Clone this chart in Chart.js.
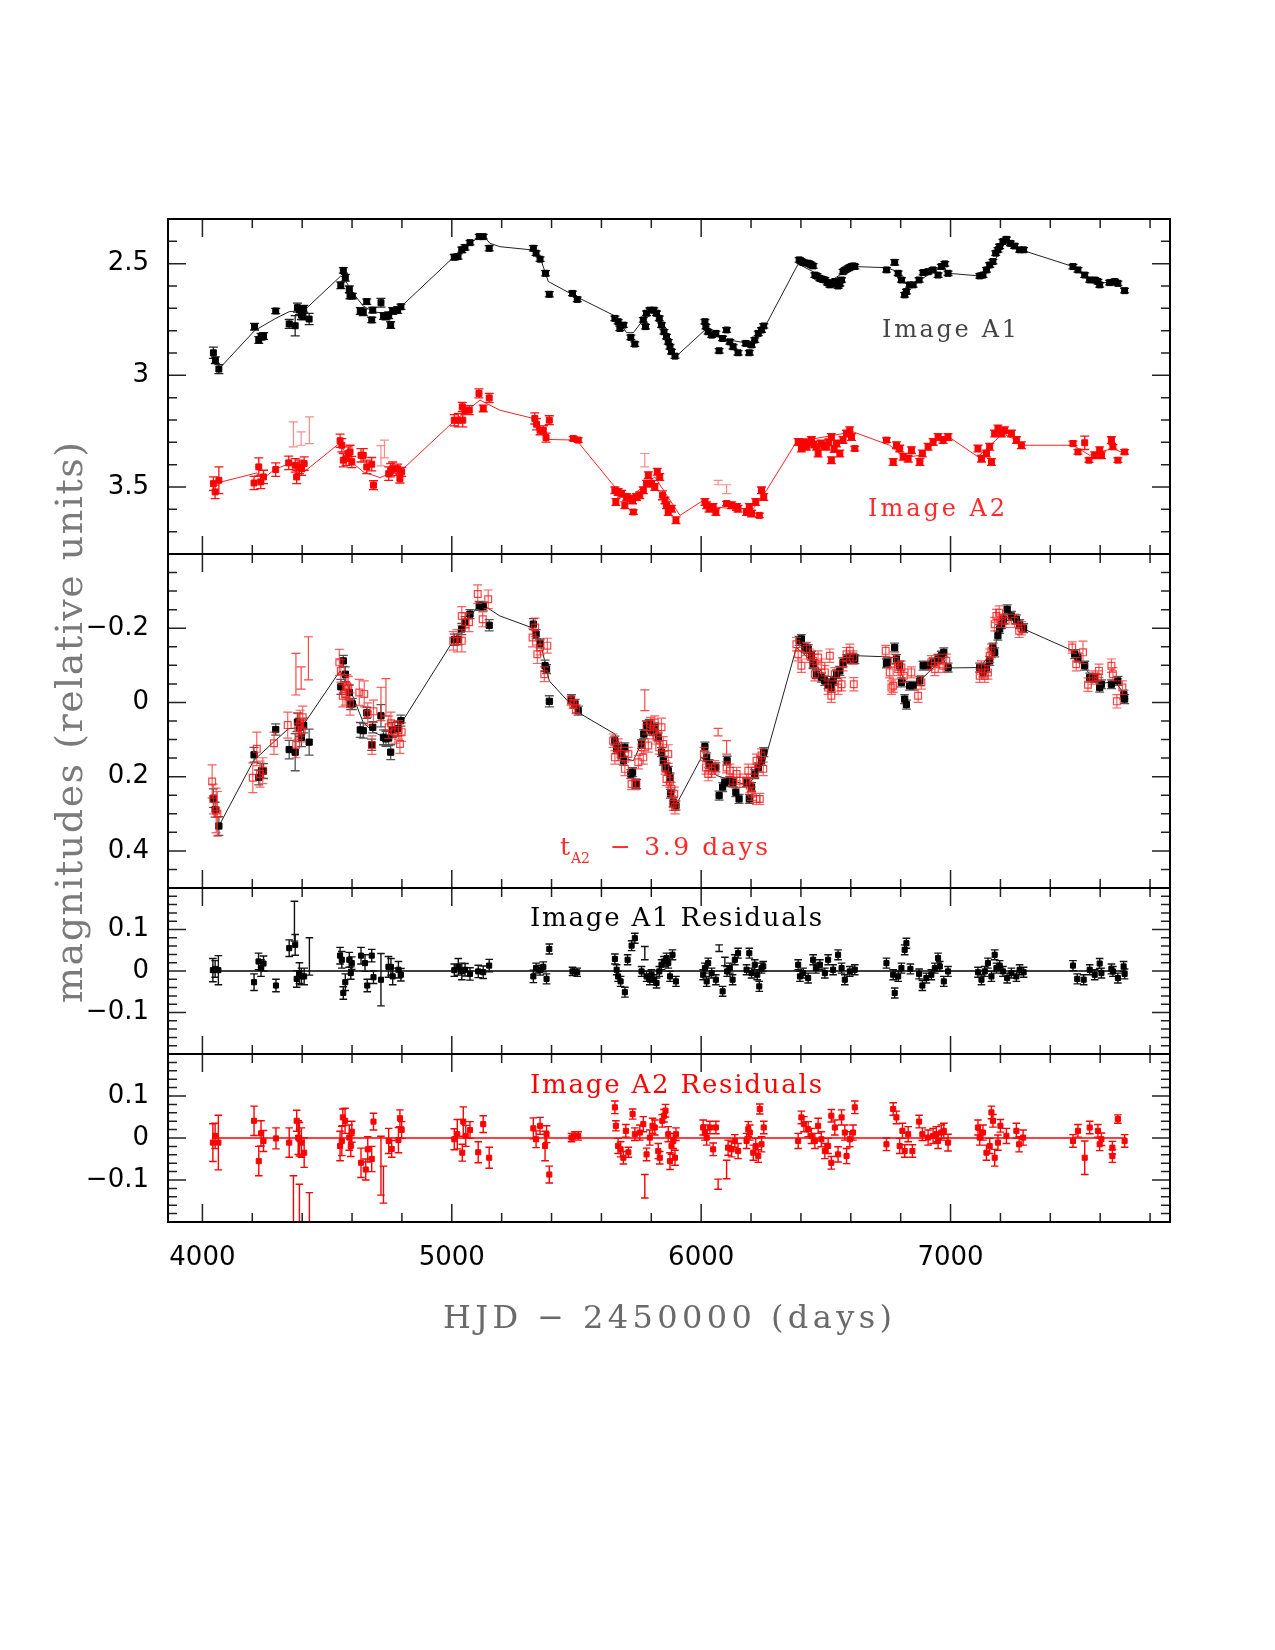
<!DOCTYPE html>
<html><head><meta charset="utf-8">
<script src="https://cdn.jsdelivr.net/npm/chart.js@4/dist/chart.umd.min.js"></script>
<style>
html,body{margin:0;padding:0;background:#fff;}
#wrap{position:relative;width:1275px;height:1650px;background:#fff;}
canvas{position:absolute;left:0;top:0;}
</style></head>
<body><div id="wrap">
<canvas id="c1" width="1275" height="1650"></canvas>
<canvas id="c2" width="1275" height="1650"></canvas>
<canvas id="c3" width="1275" height="1650"></canvas>
<canvas id="c4" width="1275" height="1650"></canvas>
</div>
<script>
// ---------------- data (HJD-2450000, magnitude, error) ----------------
const xMin = 3862, xMax = 7880;
const xTickLabels = [4000, 5000, 6000, 7000];
const p1TickLabels = [2.5, 3, 3.5];
const p2TickLabels = [-0.2, 0, 0.2, 0.4];
const residTickLabels = [-0.1, 0, 0.1];

// Panel 1: Image A1
const a1Obs = [
[4044,2.899,0.025],[4052,2.932,0.015],[4066,2.972,0.02],
[4209,2.782,0.015],[4226,2.842,0.015],[4235,2.827,0.015],[4245,2.824,0.015],
[4294,2.712,0.012],
[4348,2.770,0.02],[4372,2.778,0.045],[4381,2.697,0.02],[4389,2.708,0.02],[4397,2.730,0.02],[4403,2.737,0.015],[4406,2.702,0.015],[4428,2.748,0.025],
[4555,2.597,0.015],[4565,2.530,0.012],[4573,2.563,0.015],[4589,2.615,0.015],[4592,2.645,0.012],[4601,2.645,0.012],
[4633,2.712,0.015],[4645,2.717,0.015],[4659,2.670,0.012],[4679,2.752,0.012],[4683,2.708,0.012],
[4716,2.675,0.02],[4726,2.734,0.015],[4736,2.737,0.015],[4747,2.731,0.015],[4755,2.775,0.015],[4763,2.712,0.015],[4783,2.708,0.015],[4796,2.693,0.012],
[5010,2.471,0.012],[5025,2.468,0.012],[5040,2.438,0.012],[5053,2.427,0.012],[5073,2.406,0.01],[5110,2.379,0.01],[5126,2.379,0.01],[5150,2.431,0.012],
[5327,2.431,0.012],[5338,2.453,0.01],[5354,2.480,0.01],[5376,2.543,0.012],[5391,2.637,0.012],
[5484,2.633,0.01],[5503,2.660,0.01],
[5654,2.745,0.01],[5667,2.760,0.01],[5674,2.790,0.01],[5688,2.775,0.01],[5718,2.830,0.01],[5734,2.860,0.01],
[5768,2.752,0.01],[5777,2.782,0.01],[5781,2.722,0.01],[5794,2.708,0.01],[5810,2.708,0.01],[5821,2.722,0.01],[5832,2.745,0.01],[5841,2.775,0.01],[5851,2.805,0.01],[5861,2.827,0.01],[5868,2.850,0.01],[5875,2.872,0.01],[5881,2.894,0.01],[5895,2.914,0.01],
[6015,2.760,0.01],[6019,2.782,0.01],[6028,2.805,0.01],[6042,2.820,0.01],[6059,2.812,0.01],[6072,2.890,0.01],[6086,2.835,0.01],[6102,2.797,0.01],[6115,2.850,0.01],[6128,2.872,0.01],[6148,2.899,0.01],[6179,2.857,0.01],[6193,2.899,0.01],[6202,2.864,0.01],[6215,2.842,0.01],[6229,2.812,0.01],[6242,2.797,0.01],[6251,2.779,0.01],
[6393,2.483,0.01],[6400,2.488,0.01],[6409,2.495,0.01],[6418,2.497,0.01],[6429,2.498,0.01],[6438,2.503,0.01],[6449,2.510,0.01],[6456,2.551,0.01],[6465,2.556,0.01],[6476,2.566,0.01],[6486,2.570,0.01],[6496,2.573,0.01],[6506,2.585,0.01],[6516,2.595,0.01],[6526,2.590,0.01],[6536,2.580,0.01],[6549,2.600,0.01],[6556,2.590,0.01],[6563,2.573,0.01],[6569,2.536,0.01],[6578,2.528,0.01],[6589,2.521,0.01],[6596,2.517,0.01],[6603,2.513,0.01],[6610,2.510,0.01],[6616,2.513,0.01],
[6743,2.528,0.01],[6776,2.494,0.012],[6790,2.543,0.01],
[6803,2.573,0.01],[6816,2.640,0.01],[6823,2.625,0.01],[6836,2.595,0.01],[6850,2.595,0.01],[6874,2.573,0.01],[6890,2.540,0.01],[6910,2.536,0.01],[6930,2.528,0.01],[6950,2.551,0.01],[6963,2.513,0.01],[6977,2.501,0.01],[6990,2.543,0.01],
[7117,2.555,0.01],[7130,2.551,0.01],[7144,2.528,0.01],[7157,2.506,0.01],[7170,2.491,0.01],[7181,2.453,0.01],[7190,2.438,0.01],[7197,2.423,0.01],[7210,2.401,0.01],[7224,2.391,0.01],[7240,2.409,0.01],[7257,2.421,0.01],[7277,2.438,0.01],[7293,2.438,0.01],
[7491,2.513,0.01],[7511,2.528,0.01],[7538,2.551,0.01],[7558,2.573,0.01],[7578,2.573,0.01],[7591,2.580,0.01],[7598,2.595,0.01],[7638,2.585,0.01],[7658,2.580,0.01],[7671,2.588,0.01],[7698,2.621,0.01]
];
const a1Model = [[4066,2.972],[4209,2.800],[4294,2.745],[4348,2.715],[4392,2.710],[4416,2.701],[4555,2.555],[4572,2.573],[4605,2.633],[4645,2.690],[4686,2.715],[4726,2.722],[4759,2.715],[4799,2.690],[5010,2.468],[5060,2.420],[5106,2.382],[5133,2.382],[5153,2.409],[5193,2.424],[5327,2.439],[5360,2.491],[5387,2.580],[5500,2.648],[5654,2.734],[5701,2.809],[5728,2.809],[5788,2.722],[5810,2.708],[5834,2.752],[5895,2.920],[6015,2.797],[6062,2.827],[6128,2.845],[6189,2.857],[6249,2.797],[6389,2.501],[6449,2.536],[6516,2.580],[6576,2.536],[6616,2.513],[6743,2.518],[6776,2.531],[6810,2.585],[6836,2.595],[6877,2.573],[6917,2.546],[6970,2.510],[6990,2.543],[7117,2.555],[7170,2.498],[7224,2.397],[7271,2.438],[7291,2.441],[7491,2.513],[7558,2.573],[7598,2.588],[7658,2.580],[7698,2.621]];

// Panel 1: Image A2
const a2Obs = [
[4044,3.485,0.03],[4051,3.522,0.03],[4066,3.470,0.06],
[4207,3.482,0.03],[4226,3.410,0.04],[4234,3.477,0.03],[4245,3.455,0.03],
[4294,3.422,0.03],
[4346,3.392,0.03],[4372,3.403,0.03],[4378,3.455,0.03],[4389,3.410,0.03],[4398,3.418,0.03],[4408,3.395,0.03],
[4552,3.293,0.03],[4559,3.313,0.03],[4565,3.380,0.03],[4576,3.373,0.03],[4585,3.350,0.03],[4592,3.343,0.03],[4599,3.388,0.025],
[4636,3.358,0.03],[4645,3.358,0.03],[4659,3.410,0.03],[4679,3.398,0.03],[4686,3.492,0.02],
[4747,3.440,0.03],[4755,3.425,0.03],[4763,3.418,0.03],[4783,3.418,0.02],[4792,3.462,0.02],[4799,3.432,0.02],
[5010,3.201,0.025],[5026,3.201,0.03],[5044,3.201,0.03],[5042,3.141,0.02],[5053,3.156,0.02],[5070,3.156,0.02],[5109,3.081,0.02],[5126,3.148,0.015],[5150,3.101,0.02],
[5333,3.193,0.025],[5340,3.219,0.025],[5354,3.246,0.02],[5367,3.246,0.02],[5378,3.279,0.02],[5391,3.201,0.02],
[5487,3.283,0.01],[5507,3.290,0.01],
[5654,3.515,0.015],[5658,3.567,0.015],[5667,3.522,0.015],[5681,3.530,0.015],[5694,3.582,0.015],[5701,3.545,0.015],[5714,3.552,0.015],[5725,3.560,0.015],[5728,3.612,0.01],[5741,3.545,0.015],[5754,3.537,0.015],[5768,3.515,0.015],[5781,3.485,0.015],[5788,3.447,0.015],[5801,3.485,0.015],[5814,3.500,0.015],[5824,3.432,0.015],[5834,3.455,0.015],[5845,3.537,0.02],[5855,3.560,0.015],[5861,3.582,0.015],[5868,3.612,0.015],[5881,3.597,0.015],[5899,3.649,0.015],
[6015,3.567,0.015],[6022,3.582,0.015],[6032,3.597,0.015],[6048,3.589,0.015],[6059,3.612,0.015],[6102,3.574,0.01],[6122,3.582,0.015],[6142,3.589,0.015],[6148,3.597,0.015],[6182,3.612,0.015],[6193,3.589,0.015],[6202,3.619,0.015],[6219,3.567,0.015],[6233,3.627,0.01],[6242,3.515,0.015],[6251,3.545,0.015],
[6389,3.298,0.015],[6402,3.328,0.015],[6412,3.300,0.015],[6422,3.320,0.015],[6432,3.300,0.015],[6442,3.290,0.015],[6452,3.310,0.015],[6462,3.320,0.015],[6469,3.350,0.015],[6482,3.305,0.015],[6492,3.315,0.015],[6502,3.320,0.015],[6512,3.300,0.015],[6522,3.276,0.015],[6522,3.380,0.015],[6533,3.330,0.015],[6543,3.305,0.015],[6556,3.350,0.015],[6569,3.290,0.015],[6583,3.261,0.015],[6596,3.246,0.015],[6603,3.276,0.015],[6616,3.328,0.01],
[6743,3.290,0.01],[6770,3.388,0.015],[6783,3.313,0.015],[6796,3.328,0.015],[6810,3.365,0.015],[6830,3.373,0.015],[6843,3.335,0.015],[6877,3.388,0.015],[6887,3.350,0.015],[6910,3.320,0.015],[6930,3.298,0.015],[6950,3.276,0.015],[6970,3.290,0.015],[6990,3.276,0.015],
[7110,3.328,0.015],[7124,3.373,0.015],[7144,3.350,0.015],[7157,3.320,0.015],[7164,3.388,0.015],[7177,3.261,0.015],[7190,3.238,0.015],[7204,3.261,0.015],[7217,3.246,0.015],[7244,3.261,0.015],[7264,3.290,0.015],[7284,3.313,0.015],
[7491,3.305,0.01],[7511,3.343,0.01],[7538,3.302,0.03],[7555,3.380,0.01],[7578,3.358,0.015],[7598,3.335,0.015],[7605,3.358,0.015],[7645,3.290,0.015],[7651,3.320,0.01],[7671,3.380,0.01],[7698,3.343,0.01]
];
const a2Faint = [[4365,3.264,0.056],[4396,3.283,0.03],[4429,3.246,0.06],[4716,3.36,0.045],[4730,3.33,0.04],[5774,3.38,0.03],[6068,3.48,0.01],[6102,3.51,0.02]];
const a2Model = [[4066,3.480],[4218,3.437],[4238,3.467],[4294,3.418],[4352,3.395],[4408,3.432],[4549,3.305],[4605,3.395],[4645,3.432],[4712,3.458],[4752,3.440],[4799,3.425],[5010,3.204],[5113,3.111],[5193,3.156],[5327,3.193],[5380,3.287],[5500,3.290],[5654,3.500],[5701,3.560],[5781,3.485],[5814,3.455],[5915,3.627],[6008,3.560],[6048,3.589],[6128,3.597],[6209,3.597],[6262,3.515],[6382,3.298],[6609,3.253],[6756,3.313],[6796,3.350],[6836,3.365],[6877,3.358],[6917,3.313],[6983,3.268],[7110,3.365],[7170,3.302],[7210,3.261],[7264,3.290],[7291,3.313],[7491,3.313],[7558,3.358],[7598,3.343],[7651,3.328],[7698,3.350]];

// Panel 2: A1 and time/magnitude shifted A2
const a1Shift = [
[4044,0.258,0.025],[4051,0.289,0.02],[4066,0.333,0.025],
[4207,0.141,0.02],[4226,0.202,0.02],[4237,0.184,0.02],[4245,0.185,0.02],
[4294,0.073,0.015],
[4348,0.127,0.025],[4372,0.134,0.05],[4381,0.053,0.025],[4389,0.067,0.025],[4397,0.094,0.025],[4406,0.062,0.02],[4428,0.107,0.035],
[4555,-0.042,0.02],[4565,-0.112,0.015],[4573,-0.076,0.02],[4589,-0.027,0.02],[4595,0.004,0.015],[4601,0.004,0.015],
[4633,0.074,0.02],[4645,0.076,0.02],[4659,0.028,0.015],[4679,0.114,0.015],[4683,0.067,0.015],
[4716,0.036,0.03],[4726,0.094,0.02],[4736,0.098,0.02],[4747,0.096,0.02],[4755,0.134,0.02],[4763,0.074,0.02],[4783,0.071,0.02],[4796,0.049,0.015],
[5010,-0.169,0.015],[5025,-0.170,0.015],[5040,-0.198,0.015],[5053,-0.216,0.015],[5073,-0.238,0.012],[5110,-0.260,0.012],[5126,-0.259,0.012],[5150,-0.208,0.015],
[5327,-0.211,0.015],[5338,-0.184,0.012],[5354,-0.159,0.012],[5374,-0.099,0.015],[5380,-0.090,0.012],[5391,-0.003,0.015],
[5480,-0.009,0.012],[5494,0.004,0.012],[5507,0.022,0.012],
[5654,0.103,0.012],[5661,0.125,0.012],[5681,0.139,0.012],[5688,0.157,0.012],[5694,0.121,0.012],[5718,0.193,0.012],[5725,0.188,0.012],[5741,0.220,0.012],
[5761,0.112,0.012],[5770,0.085,0.012],[5781,0.062,0.012],[5792,0.058,0.012],[5801,0.076,0.012],[5814,0.067,0.012],[5828,0.094,0.012],[5841,0.134,0.012],[5848,0.157,0.012],[5859,0.175,0.012],[5868,0.184,0.012],[5875,0.202,0.012],[5877,0.246,0.012],[5888,0.269,0.012],[5899,0.278,0.012],
[6015,0.119,0.012],[6022,0.148,0.012],[6032,0.166,0.012],[6048,0.175,0.012],[6059,0.175,0.012],[6072,0.251,0.012],[6086,0.228,0.012],[6095,0.215,0.012],[6104,0.157,0.012],[6115,0.211,0.012],[6128,0.215,0.012],[6139,0.242,0.012],[6152,0.260,0.012],[6182,0.215,0.012],[6193,0.260,0.012],[6202,0.228,0.012],[6215,0.193,0.012],[6229,0.175,0.012],[6242,0.157,0.012],[6251,0.134,0.012],
[6393,-0.166,0.012],[6402,-0.171,0.012],[6416,-0.148,0.012],[6429,-0.144,0.012],[6442,-0.126,0.012],[6449,-0.103,0.012],[6462,-0.076,0.012],[6482,-0.067,0.012],[6496,-0.058,0.012],[6509,-0.049,0.012],[6522,-0.040,0.012],[6529,-0.058,0.012],[6543,-0.076,0.012],[6556,-0.085,0.012],[6569,-0.108,0.012],[6583,-0.117,0.012],[6596,-0.121,0.012],[6609,-0.121,0.012],[6616,-0.117,0.012],
[6743,-0.105,0.012],[6746,-0.108,0.012],[6776,-0.148,0.012],[6783,-0.117,0.012],[6796,-0.099,0.012],[6803,-0.054,0.012],[6816,-0.009,0.012],[6823,0.006,0.012],[6836,-0.045,0.012],[6850,-0.045,0.012],[6877,-0.058,0.012],[6890,-0.099,0.012],[6910,-0.099,0.012],[6930,-0.108,0.012],[6950,-0.117,0.012],[6963,-0.126,0.012],[6973,-0.135,0.012],[6990,-0.094,0.012],
[7117,-0.094,0.012],[7130,-0.081,0.012],[7144,-0.094,0.012],[7157,-0.112,0.012],[7170,-0.148,0.012],[7177,-0.135,0.012],[7190,-0.180,0.012],[7197,-0.198,0.012],[7204,-0.211,0.012],[7213,-0.224,0.012],[7227,-0.251,0.012],[7244,-0.233,0.012],[7264,-0.224,0.012],[7277,-0.211,0.012],[7293,-0.200,0.012],
[7498,-0.130,0.012],[7511,-0.121,0.012],[7538,-0.099,0.012],[7558,-0.067,0.012],[7578,-0.066,0.012],[7598,-0.040,0.012],[7605,-0.049,0.012],[7645,-0.049,0.012],[7671,-0.058,0.012],[7695,-0.021,0.012],[7698,-0.009,0.012]
];
const a2Shift = [
[4039,0.213,0.045],[4044,0.260,0.04],[4055,0.291,0.06],[4060,0.300,0.06],
[4202,0.203,0.04],[4218,0.125,0.045],[4231,0.193,0.035],[4242,0.184,0.035],
[4287,0.110,0.03],
[4342,0.061,0.035],[4376,0.114,0.035],[4384,0.065,0.035],[4392,0.056,0.035],[4398,0.076,0.03],[4402,0.040,0.03],
[4549,-0.108,0.035],[4555,-0.085,0.03],[4563,-0.018,0.03],[4572,-0.023,0.03],[4579,-0.045,0.03],[4585,-0.040,0.03],[4592,0.004,0.03],
[4629,-0.027,0.035],[4649,-0.023,0.035],[4663,0.031,0.03],[4680,0.115,0.025],[4686,0.024,0.03],
[4747,0.067,0.03],[4756,0.056,0.03],[4772,0.080,0.03],[4786,0.074,0.025],[4792,0.112,0.025],[4799,0.080,0.025],
[5006,-0.166,0.025],[5022,-0.166,0.03],[5040,-0.166,0.03],[5040,-0.233,0.025],[5054,-0.216,0.025],[5069,-0.216,0.025],[5104,-0.292,0.025],[5124,-0.224,0.02],[5146,-0.278,0.025],
[5324,-0.175,0.025],[5334,-0.202,0.025],[5343,-0.130,0.025],[5354,-0.148,0.02],[5371,-0.076,0.02],[5383,-0.153,0.02],
[5478,-0.005,0.012],[5487,0.004,0.012],[5498,0.018,0.012],
[5647,0.103,0.018],[5654,0.148,0.018],[5667,0.116,0.018],[5677,0.139,0.018],[5694,0.179,0.018],[5708,0.139,0.018],[5721,0.220,0.015],[5738,0.220,0.015],[5748,0.161,0.018],[5761,0.121,0.018],[5768,0.148,0.018],[5781,0.067,0.018],[5788,0.116,0.018],[5797,0.058,0.018],[5808,0.080,0.018],[5814,0.054,0.018],[5821,0.094,0.018],[5832,0.121,0.018],[5841,0.067,0.025],[5848,0.112,0.02],[5855,0.175,0.018],[5861,0.206,0.018],[5868,0.139,0.025],[5875,0.211,0.018],[5881,0.233,0.018],[5888,0.273,0.018],[5892,0.246,0.018],[5895,0.282,0.018],
[6011,0.139,0.018],[6019,0.175,0.018],[6028,0.193,0.018],[6042,0.184,0.018],[6055,0.175,0.018],[6102,0.175,0.015],[6115,0.184,0.018],[6128,0.211,0.018],[6142,0.193,0.018],[6155,0.211,0.018],[6182,0.211,0.018],[6189,0.184,0.018],[6195,0.224,0.018],[6202,0.246,0.018],[6215,0.184,0.018],[6222,0.260,0.015],[6222,0.157,0.018],[6235,0.260,0.015],[6242,0.143,0.018],[6249,0.179,0.018],
[6382,-0.157,0.018],[6389,-0.130,0.018],[6402,-0.099,0.018],[6422,-0.144,0.018],[6436,-0.126,0.018],[6449,-0.112,0.018],[6456,-0.076,0.018],[6469,-0.121,0.018],[6482,-0.099,0.018],[6496,-0.081,0.018],[6509,-0.040,0.018],[6516,-0.126,0.018],[6522,-0.018,0.018],[6536,-0.076,0.018],[6549,-0.040,0.018],[6563,-0.049,0.018],[6569,-0.103,0.018],[6583,-0.130,0.018],[6596,-0.139,0.018],[6609,-0.121,0.018],[6612,-0.049,0.018],
[6740,-0.139,0.015],[6756,-0.081,0.015],[6763,-0.040,0.018],[6770,-0.045,0.018],[6776,-0.112,0.018],[6790,-0.090,0.018],[6803,-0.094,0.018],[6812,-0.072,0.018],[6843,-0.081,0.015],[6870,-0.018,0.018],[6883,-0.054,0.018],[6923,-0.108,0.018],[6937,-0.090,0.018],[6950,-0.112,0.018],[6970,-0.099,0.018],[6983,-0.112,0.018],
[7117,-0.072,0.018],[7124,-0.094,0.018],[7137,-0.072,0.018],[7150,-0.081,0.018],[7157,-0.126,0.018],[7164,-0.139,0.018],[7177,-0.211,0.018],[7184,-0.233,0.018],[7195,-0.242,0.018],[7204,-0.220,0.018],[7221,-0.220,0.018],[7257,-0.220,0.018],[7275,-0.193,0.018],[7284,-0.200,0.018],
[7488,-0.148,0.015],[7504,-0.103,0.018],[7531,-0.135,0.03],[7551,-0.048,0.018],[7571,-0.067,0.018],[7591,-0.067,0.018],[7595,-0.085,0.018],[7645,-0.099,0.018],[7651,-0.076,0.018],[7667,-0.003,0.018],[7689,-0.040,0.018]
];
const a2ShiftFaint = [[4375,-0.076,0.056],[4396,-0.066,0.03],[4425,-0.119,0.058],[4716,0.004,0.045],[4736,-0.014,0.05],[5774,-0.006,0.028],[6068,0.080,0.01],[6102,0.121,0.018]];
const a1ShiftModel = [[4066,0.333],[4205,0.157],[4285,0.107],[4345,0.071],[4398,0.067],[4552,-0.085],[4605,-0.014],[4645,0.054],[4686,0.080],[4732,0.094],[4766,0.080],[4799,0.054],[5010,-0.171],[5060,-0.220],[5106,-0.260],[5140,-0.256],[5193,-0.233],[5327,-0.200],[5360,-0.148],[5391,-0.058],[5507,0.027],[5654,0.085],[5701,0.152],[5728,0.157],[5781,0.080],[5810,0.067],[5834,0.103],[5895,0.282],[6001,0.148],[6062,0.197],[6128,0.211],[6189,0.224],[6255,0.157],[6382,-0.148],[6449,-0.108],[6516,-0.058],[6576,-0.103],[6616,-0.126],[6743,-0.123],[6776,-0.120],[6810,-0.067],[6836,-0.045],[6877,-0.058],[6917,-0.085],[6970,-0.117],[6990,-0.093],[7117,-0.094],[7170,-0.139],[7224,-0.242],[7277,-0.200],[7293,-0.198],[7491,-0.139],[7558,-0.076],[7598,-0.049],[7658,-0.058],[7698,-0.021]];

// Panel 3: A1 residuals
const r1Obs = [
[4042,0.002,0.028],[4051,0.005,0.02],[4064,0.002,0.035],
[4207,-0.027,0.02],[4225,0.023,0.02],[4235,0.007,0.02],[4245,0.018,0.018],
[4295,-0.035,0.015],
[4348,0.055,0.02],[4372,0.063,0.025],[4378,-0.019,0.02],[4389,-0.005,0.025],[4397,-0.013,0.02],[4408,-0.013,0.02],
[4552,0.037,0.02],[4559,0.027,0.02],[4565,-0.053,0.015],[4573,-0.027,0.02],[4589,0.027,0.018],[4595,-0.005,0.015],[4599,0.019,0.015],
[4636,0.037,0.02],[4652,0.019,0.02],[4661,-0.035,0.015],[4679,0.037,0.015],[4686,-0.015,0.015],
[4716,-0.021,0.063],[4746,0.010,0.025],[4756,0.010,0.02],[4763,-0.013,0.02],[4786,0.003,0.02],[4796,-0.009,0.015],
[5010,0.002,0.015],[5026,0.010,0.02],[5040,-0.001,0.02],[5053,0.003,0.015],[5073,-0.007,0.015],[5106,-0.001,0.015],[5126,-0.003,0.015],[5150,0.013,0.015],
[5327,-0.013,0.015],[5338,0.007,0.012],[5354,0.002,0.012],[5367,0.010,0.012],[5380,-0.019,0.012],[5391,0.053,0.012],
[5484,-0.001,0.01],[5503,-0.003,0.01],
[5654,0.029,0.012],[5661,0.003,0.012],[5667,-0.013,0.012],[5677,-0.025,0.012],[5694,-0.051,0.012],[5705,0.027,0.012],[5721,0.061,0.012],[5734,0.079,0.012],[5761,-0.001,0.012],[5781,-0.013,0.012],[5794,-0.021,0.012],[5801,-0.009,0.012],[5810,-0.021,0.012],[5821,-0.029,0.012],[5832,-0.001,0.012],[5841,0.015,0.012],[5851,0.023,0.012],[5861,0.031,0.012],[5868,0.019,0.012],[5875,-0.013,0.012],[5885,0.039,0.012],[5899,-0.025,0.012],
[6008,-0.009,0.012],[6015,0.007,0.012],[6022,-0.025,0.012],[6028,0.019,0.012],[6042,-0.005,0.012],[6059,-0.021,0.012],[6086,-0.049,0.012],[6104,-0.001,0.012],[6115,0.007,0.012],[6126,-0.021,0.012],[6135,0.027,0.012],[6148,0.043,0.012],[6182,0.003,0.012],[6193,0.043,0.012],[6202,-0.005,0.012],[6215,0.015,0.012],[6225,-0.009,0.012],[6233,-0.037,0.012],[6242,0.007,0.012],[6249,0.011,0.012],
[6389,0.015,0.012],[6396,-0.013,0.012],[6409,-0.005,0.012],[6429,-0.017,0.012],[6449,0.027,0.012],[6460,0.007,0.012],[6476,0.015,0.012],[6496,-0.005,0.012],[6509,0.027,0.012],[6529,0.003,0.012],[6549,0.039,0.012],[6563,0.007,0.012],[6576,-0.021,0.012],[6596,-0.001,0.012],[6616,0.003,0.012],
[6743,0.019,0.012],[6770,-0.009,0.012],[6776,-0.053,0.012],[6790,-0.013,0.012],[6803,0.007,0.012],[6816,0.051,0.012],[6823,0.067,0.012],[6839,0.005,0.012],[6874,-0.007,0.012],[6887,-0.035,0.012],[6903,-0.017,0.012],[6923,-0.009,0.012],[6937,0.007,0.012],[6950,0.031,0.012],[6957,0.011,0.012],[6973,-0.025,0.012],[6990,-0.001,0.012],
[7110,-0.003,0.012],[7124,-0.021,0.012],[7137,-0.001,0.012],[7150,0.019,0.012],[7164,-0.013,0.012],[7177,0.039,0.012],[7184,0.007,0.012],[7197,0.013,0.012],[7210,-0.001,0.012],[7227,-0.017,0.012],[7244,-0.005,0.012],[7264,-0.013,0.012],[7277,0.003,0.012],[7293,-0.003,0.012],
[7491,0.013,0.012],[7508,-0.019,0.012],[7534,-0.021,0.012],[7558,0.003,0.012],[7578,-0.009,0.012],[7598,0.018,0.012],[7605,-0.005,0.012],[7645,0.005,0.012],[7651,-0.001,0.012],[7671,-0.017,0.012],[7694,0.011,0.012],[7698,-0.007,0.012]
];
const r1Bars = [[4369,0.12,0.048],[4429,0.035,0.045],[5774,0.043,0.016],[6072,0.055,0.008],[6095,0.023,0.01]];

// Panel 4: A2 residuals
const r2Obs = [
[4042,-0.011,0.045],[4051,0.005,0.03],[4064,-0.011,0.065],
[4207,0.041,0.035],[4226,-0.055,0.035],[4235,0.011,0.03],[4245,-0.007,0.025],
[4295,-0.001,0.025],
[4348,-0.011,0.035],[4378,0.041,0.025],[4384,0.001,0.04],[4389,-0.003,0.04],[4397,-0.011,0.035],[4408,-0.035,0.035],
[4552,-0.019,0.035],[4559,-0.007,0.035],[4563,0.049,0.02],[4572,0.041,0.03],[4589,0.001,0.03],[4595,-0.019,0.025],[4599,0.015,0.025],
[4636,-0.059,0.035],[4655,-0.075,0.025],[4663,-0.027,0.03],[4679,-0.050,0.03],[4686,0.039,0.02],
[4747,-0.007,0.03],[4759,-0.026,0.02],[4786,-0.005,0.03],[4792,0.047,0.02],[4799,0.019,0.02],
[5010,-0.003,0.025],[5022,0.009,0.035],[5042,-0.035,0.02],[5046,0.039,0.035],[5056,0.005,0.025],[5073,0.019,0.02],[5106,-0.034,0.025],[5126,0.033,0.02],[5150,-0.047,0.025],
[5327,0.023,0.025],[5338,-0.003,0.02],[5354,0.029,0.02],[5374,-0.019,0.035],[5380,0.009,0.02],[5391,-0.087,0.02],
[5480,0.001,0.01],[5494,0.005,0.01],[5507,0.005,0.01],
[5654,0.073,0.015],[5658,0.029,0.012],[5667,-0.019,0.018],[5677,-0.027,0.018],[5688,-0.047,0.015],[5698,0.017,0.015],[5708,-0.034,0.012],[5725,0.057,0.012],[5734,0.009,0.015],[5754,0.013,0.018],[5768,0.033,0.018],[5781,-0.039,0.015],[5794,0.001,0.018],[5805,0.029,0.018],[5814,0.025,0.018],[5828,-0.031,0.018],[5834,-0.047,0.015],[5844,0.041,0.015],[5851,0.053,0.015],[5857,0.065,0.015],[5868,0.009,0.018],[5875,-0.055,0.02],[5881,-0.019,0.02],[5888,-0.007,0.018],[5895,-0.047,0.018],[5899,0.009,0.015],
[6008,0.025,0.018],[6015,0.013,0.018],[6022,0.001,0.018],[6035,0.025,0.015],[6048,-0.027,0.015],[6059,0.025,0.015],[6108,-0.023,0.018],[6122,-0.027,0.018],[6135,-0.007,0.015],[6148,-0.031,0.018],[6182,-0.007,0.018],[6189,0.021,0.018],[6195,0.013,0.018],[6209,-0.035,0.018],[6219,-0.019,0.018],[6229,-0.043,0.015],[6235,0.069,0.012],[6242,-0.015,0.018],[6251,0.025,0.015],
[6389,-0.007,0.018],[6402,0.049,0.015],[6412,0.033,0.018],[6429,0.021,0.018],[6442,0.005,0.018],[6456,-0.007,0.018],[6469,0.029,0.018],[6482,-0.003,0.018],[6496,-0.031,0.018],[6509,-0.019,0.018],[6522,-0.059,0.015],[6522,0.053,0.015],[6536,0.025,0.018],[6549,-0.039,0.018],[6563,0.049,0.018],[6576,0.013,0.018],[6583,-0.043,0.018],[6596,-0.003,0.018],[6609,0.013,0.018],[6616,0.073,0.015],
[6743,-0.015,0.015],[6770,0.069,0.015],[6783,0.049,0.015],[6796,-0.019,0.018],[6807,0.017,0.018],[6816,-0.031,0.015],[6830,0.009,0.018],[6847,-0.031,0.015],[6874,0.039,0.015],[6887,0.009,0.015],[6910,0.001,0.018],[6930,0.005,0.018],[6943,0.009,0.018],[6950,-0.007,0.018],[6963,0.013,0.018],[6973,0.017,0.018],[6990,-0.011,0.02],
[7110,0.025,0.018],[7117,0.001,0.018],[7130,0.013,0.018],[7144,-0.035,0.018],[7157,-0.019,0.018],[7164,0.061,0.015],[7170,0.041,0.015],[7177,-0.047,0.02],[7190,-0.011,0.018],[7200,0.029,0.015],[7224,0.005,0.018],[7264,0.017,0.018],[7275,-0.015,0.018],[7291,0.001,0.018],
[7491,-0.007,0.015],[7511,0.017,0.015],[7538,-0.047,0.04],[7558,0.025,0.015],[7591,0.017,0.015],[7598,-0.015,0.015],[7605,-0.003,0.015],[7649,-0.023,0.015],[7649,-0.043,0.015],[7671,0.045,0.01],[7698,-0.007,0.015]
];
const r2Bars = [[4716,-0.066,0.07],[4726,-0.111,0.044],[4365,-0.22,0.13],[4389,-0.24,0.13],[4429,-0.26,0.13],[5774,-0.115,0.028],[6068,-0.11,0.012],[6102,-0.075,0.022]];

const residLineDays = [4040, 7705];
const residLineVals = [0, 0];

// ---------------- layout / style ----------------
const FRAME_L = 168, FRAME_R = 1170;
const PANELS = [{top:219,bottom:554},{top:554,bottom:888},{top:888,bottom:1054},{top:1054,bottom:1222}];
const Y_W = 100, X_H = 62;
const TICK_FONT = {family:'"DejaVu Sans", sans-serif', size:26};
const SERIF = '"DejaVu Serif", "Liberation Serif", serif';

const pts = arr => arr.map(p => ({x:p[0], y:p[1]}));
const errOf = arr => arr.map(p => p[2]);
const fmt = v => (v < 0 ? '\u2212' : '') + String(Math.abs(v));

function scatterDS(arr, o) {
  return Object.assign({
    type:'scatter', data:pts(arr), errs:errOf(arr),
    pointStyle:'rect', pointRadius:4.2, pointBorderWidth:1,
    pointBackgroundColor:'#000', pointBorderColor:'#000',
    errColor:'#222', errWidth:1.3, capW:4.5
  }, o);
}
function lineDS(arr, color, w, order) {
  return {type:'line', data:arr.map(p => ({x:p[0], y:p[1]})), borderColor:color, borderWidth:w,
    pointRadius:0, fill:false, tension:0, order:order};
}

const errPlugin = {
  id:'errbars',
  beforeDatasetDraw(chart, args) {
    const ds = chart.data.datasets[args.index];
    if (!ds.errs) return;
    const {ctx, chartArea:a} = chart;
    const xs = chart.scales[args.meta.xAxisID], ys = chart.scales[args.meta.yAxisID];
    ctx.save();
    ctx.beginPath(); ctx.rect(a.left, a.top, a.right - a.left, a.bottom - a.top); ctx.clip();
    ctx.strokeStyle = ds.errColor; ctx.lineWidth = ds.errWidth;
    ctx.beginPath();
    ds.data.forEach((p, i) => {
      const e = ds.errs[i]; if (!e) return;
      const px = xs.getPixelForValue(p.x);
      const y1 = ys.getPixelForValue(p.y - e), y2 = ys.getPixelForValue(p.y + e);
      ctx.moveTo(px, y1); ctx.lineTo(px, y2);
      ctx.moveTo(px - ds.capW, y1); ctx.lineTo(px + ds.capW, y1);
      ctx.moveTo(px - ds.capW, y2); ctx.lineTo(px + ds.capW, y2);
    });
    ctx.stroke();
    ctx.restore();
  }
};

function makeFramePlugin(cfg) {
  return {
    id:'frame',
    afterDatasetsDraw(chart) {
      const {ctx, chartArea:a} = chart;
      const x = chart.scales.x, y = chart.scales.y;
      ctx.save();
      ctx.strokeStyle = '#222'; ctx.lineWidth = 1.5;
      ctx.beginPath();
      for (let v = 4000; v <= xMax; v += 200) {
        const len = v % 1000 === 0 ? 18 : 9;
        const px = x.getPixelForValue(v);
        ctx.moveTo(px, a.top); ctx.lineTo(px, a.top + len);
        ctx.moveTo(px, a.bottom); ctx.lineTo(px, a.bottom - len);
      }
      const k0 = Math.round(Math.min(y.min, y.max) / cfg.minor), k1 = Math.round(Math.max(y.min, y.max) / cfg.minor);
      for (let k = k0 + 1; k < k1; k++) {
        const v = k * cfg.minor;
        const r = v / cfg.major;
        const len = Math.abs(r - Math.round(r)) < 1e-6 ? 18 : 9;
        const py = y.getPixelForValue(v);
        ctx.moveTo(a.left, py); ctx.lineTo(a.left + len, py);
        ctx.moveTo(a.right, py); ctx.lineTo(a.right - len, py);
      }
      ctx.stroke();
      ctx.strokeStyle = '#000'; ctx.lineWidth = 2;
      ctx.strokeRect(a.left, a.top, a.right - a.left, a.bottom - a.top);
      ctx.restore();
    }
  };
}

function drawText(ctx, it) {
  ctx.save();
  ctx.font = (it.size) + 'px ' + (it.family || SERIF);
  ctx.fillStyle = it.color;
  ctx.textAlign = 'left'; ctx.textBaseline = 'alphabetic';
  const n = Array.from(it.text).length;
  const w0 = ctx.measureText(it.text).width;
  const sp = it.w ? (it.w - w0) / Math.max(n - 1, 1) : 0;
  ctx.translate(it.x, it.y);
  if (it.rot) ctx.rotate(-Math.PI / 2);
  if (sp && ('letterSpacing' in ctx)) {
    ctx.letterSpacing = sp.toFixed(2) + 'px';
    ctx.fillText(it.text, 0, 0);
  } else if (sp) {
    ctx.scale(it.w / w0, 1);
    ctx.fillText(it.text, 0, 0);
  } else {
    ctx.fillText(it.text, 0, 0);
  }
  ctx.restore();
}
function makeTextPlugin(items) {
  return { id:'texts', afterDraw(chart) { items.forEach(it => drawText(chart.ctx, it)); } };
}

function makeChart(id, pIdx, datasets, ycfg, showX, texts) {
  const P = PANELS[pIdx];
  const xScale = showX ? {
    type:'linear', min:xMin, max:xMax, position:'bottom',
    afterBuildTicks: s => { s.ticks = xTickLabels.map(v => ({value:v})); },
    afterFit: s => { s.height = X_H; },
    grid:{display:false, drawTicks:false}, border:{display:false},
    ticks:{padding:21, maxRotation:0, minRotation:0, autoSkip:false, color:'#000', font:TICK_FONT, callback: v => String(v)}
  } : {type:'linear', min:xMin, max:xMax, display:false};
  return new Chart(document.getElementById(id), {
    type:'scatter',
    data:{datasets},
    options:{
      responsive:false, maintainAspectRatio:false, devicePixelRatio:1, animation:false, events:[],
      layout:{padding:{left:FRAME_L - Y_W, right:1275 - FRAME_R, top:P.top, bottom:1650 - P.bottom - (showX ? X_H : 0)}},
      plugins:{legend:{display:false}, tooltip:{enabled:false}},
      scales:{
        x:xScale,
        y:{
          type:'linear', position:'left', min:ycfg.min, max:ycfg.max, reverse:!!ycfg.reverse,
          afterBuildTicks: s => { s.ticks = ycfg.labels.map(v => ({value:v})); },
          afterFit: s => { s.width = Y_W; },
          grid:{display:false, drawTicks:false}, border:{display:false},
          ticks:{padding:19, color:'#000', font:TICK_FONT, callback: v => fmt(v)}
        }
      }
    },
    plugins:[errPlugin, makeFramePlugin(ycfg), makeTextPlugin(texts)]
  });
}

// ---------------- panel 1 ----------------
makeChart('c1', 0, [
  scatterDS(a1Obs, {order:1, errColor:'#222'}),
  scatterDS(a2Obs, {order:2, pointBackgroundColor:'#ff0000', pointBorderColor:'#ff0000', errColor:'#ff1010'}),
  scatterDS(a2Faint, {order:3, pointRadius:0, errColor:'#ff8a8a', errWidth:1.2}),
  lineDS(a1Model, '#222', 1, 4),
  lineDS(a2Model, '#ff2020', 1, 5)
], {min:2.3, max:3.8, reverse:true, labels:p1TickLabels, minor:0.1, major:0.5}, false, [
  {text:'Image A1', x:882, y:337, w:135, size:24, color:'#444'},
  {text:'Image A2', x:868, y:516, w:137, size:24, color:'#ff2a2a'}
]);

// ---------------- panel 2 ----------------
makeChart('c2', 1, [
  scatterDS(a2Shift, {order:1, pointRadius:4.8, pointBorderWidth:1.2, pointBackgroundColor:'rgba(0,0,0,0)', pointBorderColor:'rgba(255,20,20,0.8)', errColor:'rgba(255,40,40,0.75)', errWidth:1.2}),
  scatterDS(a2ShiftFaint, {order:2, pointRadius:0, errColor:'rgba(255,40,40,0.85)', errWidth:1.2}),
  scatterDS(a1Shift, {order:3, pointRadius:4.4, errColor:'#555'}),
  lineDS(a1ShiftModel, '#222', 1, 4)
], {min:-0.4, max:0.5, reverse:true, labels:p2TickLabels, minor:0.05, major:0.2}, false, [
  {text:'t', x:560, y:855, size:25, color:'#ff2a2a'},
  {text:'A2', x:571, y:863, size:14, color:'#ff2a2a'},
  {text:'\u2212 3.9 days', x:610, y:855, w:158, size:25, color:'#ff2a2a'},
  {text:'magnitudes (relative units)', x:82, y:1003, w:561, size:38, color:'#7a7a7a', rot:true}
]);

// ---------------- panel 3 ----------------
makeChart('c3', 2, [
  scatterDS(r1Obs, {order:1, pointRadius:3.6, errColor:'#111', errWidth:1.4, capW:3.8}),
  scatterDS(r1Bars, {order:2, pointRadius:0, errColor:'#111', errWidth:1.4, capW:3.8}),
  lineDS(residLineDays.map((d, i) => [d, residLineVals[i]]), '#000', 1.5, 3)
], {min:-0.2, max:0.2, labels:residTickLabels, minor:0.02, major:0.1}, false, [
  {text:'Image A1 Residuals', x:530, y:926, w:292, size:26, color:'#000'}
]);

// ---------------- panel 4 ----------------
makeChart('c4', 3, [
  scatterDS(r2Obs, {order:1, pointRadius:3.6, pointBackgroundColor:'#ff0000', pointBorderColor:'#ff0000', errColor:'#ff0000', errWidth:1.4, capW:3.8}),
  scatterDS(r2Bars, {order:2, pointRadius:0, errColor:'#ff0000', errWidth:1.4, capW:3.8}),
  lineDS(residLineDays.map((d, i) => [d, residLineVals[i]]), '#ff0000', 1.5, 3)
], {min:-0.2, max:0.2, labels:residTickLabels, minor:0.02, major:0.1}, true, [
  {text:'Image A2 Residuals', x:530, y:1093, w:292, size:26, color:'#ff0000'},
  {text:'HJD \u2212 2450000 (days)', x:443, y:1328, w:449, size:32, color:'#6a6a6a'}
]);
</script>
</body></html>
